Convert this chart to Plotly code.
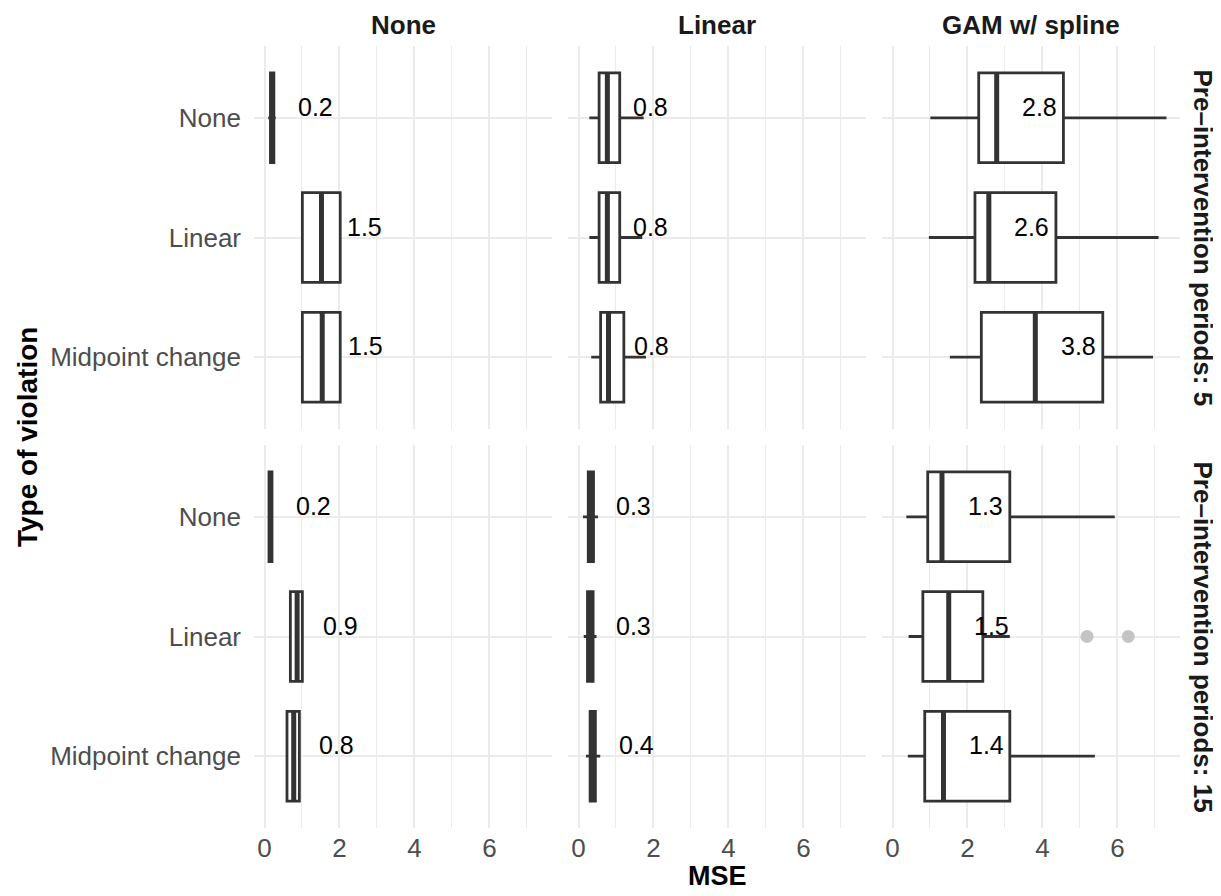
import plotly.graph_objects as go

# ---------------- data ----------------
violations = ["None", "Linear", "Midpoint change"]          # y categories (top to bottom)
models = ["None", "Linear", "GAM w/ spline"]                 # facet columns
periods = ["Pre–intervention periods: 5", "Pre–intervention periods: 15"]  # facet rows
x_ticks = [0, 2, 4, 6]

# each list: [model][violation]
lo_p5  = [[0.10, 1.01, 1.01], [0.29, 0.29, 0.34], [1.01, 0.97, 1.53]]
q1_p5  = [[0.16, 1.01, 1.01], [0.55, 0.55, 0.59], [2.30, 2.20, 2.37]]
med_p5 = [[0.20, 1.52, 1.54], [0.77, 0.77, 0.80], [2.78, 2.57, 3.81]]
q3_p5  = [[0.25, 2.02, 2.02], [1.10, 1.10, 1.21], [4.56, 4.36, 5.61]]
hi_p5  = [[0.30, 2.02, 2.02], [1.74, 1.70, 1.80], [7.31, 7.10, 6.95]]

lo_p15  = [[0.09, 0.69, 0.60], [0.12, 0.14, 0.20], [0.37, 0.43, 0.41]]
q1_p15  = [[0.12, 0.69, 0.60], [0.26, 0.24, 0.31], [0.94, 0.81, 0.86]]
med_p15 = [[0.16, 0.87, 0.78], [0.32, 0.31, 0.40], [1.32, 1.50, 1.36]]
q3_p15  = [[0.20, 1.01, 0.93], [0.40, 0.39, 0.45], [3.13, 2.41, 3.13]]
hi_p15  = [[0.23, 1.01, 0.93], [0.52, 0.48, 0.58], [5.93, 3.13, 5.40]]

# outliers: (period index, model index, violation index, value)
outlier_period = [1, 1]
outlier_model = [2, 2]
outlier_violation = [1, 1]
outlier_value = [5.19, 6.29]

stats = [
    (lo_p5, q1_p5, med_p5, q3_p5, hi_p5),
    (lo_p15, q1_p15, med_p15, q3_p15, hi_p15),
]

# ---------------- layout helpers ----------------
OFF = 8                      # page body margin of the html page
W, H = 1221 - OFF, 896 - OFF
FONT = "Liberation Sans, Arial, Helvetica, sans-serif"
col_px = [(254, 552), (568, 866), (882, 1180)]
row_px = [(46, 429), (445, 828)]
XR = [-0.28, 7.67]
YR = [-0.6, 2.6]
BOXW = 0.75
LINE = "#333333"
GRID = "#ebebeb"

def fx(px):
    return (px - OFF) / W

def fy(py):
    return 1 - (py - OFF) / H

def ypos(vi):
    return 2 - vi  # None at top

fig = go.Figure()
layout = dict(
    width=W, height=H, margin=dict(l=0, r=0, t=0, b=0),
    paper_bgcolor="white", plot_bgcolor="white", showlegend=False,
    font=dict(family=FONT, color="#4d4d4d"),
)
annotations = []

for r in range(2):
    lo, q1, med, q3, hi = stats[r]
    for c in range(3):
        k = r * 3 + c + 1
        xa = "x" if k == 1 else f"x{k}"
        ya = "y" if k == 1 else f"y{k}"
        xkey = "xaxis" if k == 1 else f"xaxis{k}"
        ykey = "yaxis" if k == 1 else f"yaxis{k}"
        layout[xkey] = dict(
            domain=[fx(col_px[c][0]), fx(col_px[c][1])], anchor=ya,
            range=XR, tickvals=x_ticks, ticktext=[str(t) for t in x_ticks],
            showgrid=True, gridcolor=GRID, gridwidth=1.6, zeroline=False,
            showline=False, ticks="", showticklabels=(r == 1),
            tickfont=dict(size=26, color="#4d4d4d", family=FONT),
            ticklabelstandoff=2,
            minor=dict(tickvals=[1, 3, 5, 7], showgrid=True, gridcolor=GRID, gridwidth=0.8),
        )
        layout[ykey] = dict(
            domain=[fy(row_px[r][1]), fy(row_px[r][0])], anchor=xa,
            range=YR, tickvals=[ypos(i) for i in range(3)], ticktext=violations,
            showgrid=True, gridcolor=GRID, gridwidth=2, zeroline=False,
            showline=False, ticks="", showticklabels=(c == 0),
            tickfont=dict(size=26, color="#4d4d4d", family=FONT),
            ticklabelstandoff=12,
        )
        for v in range(3):
            y = ypos(v)
            fig.add_trace(go.Box(
                orientation="h", y=[y],
                q1=[q1[c][v]], median=[med[c][v]], q3=[q3[c][v]],
                lowerfence=[lo[c][v]], upperfence=[hi[c][v]],
                width=BOXW, whiskerwidth=0, boxpoints=False,
                fillcolor="white", line=dict(color=LINE, width=2.8),
                xaxis=xa, yaxis=ya, hoverinfo="skip",
            ))
            fig.add_trace(go.Scatter(
                x=[med[c][v], med[c][v]], y=[y - BOXW / 2, y + BOXW / 2],
                mode="lines", line=dict(color=LINE, width=5),
                xaxis=xa, yaxis=ya, hoverinfo="skip",
            ))
            annotations.append(dict(
                x=med[c][v] + 1.15, y=y + 0.09, xref=xa, yref=ya,
                text=f"{med[c][v]:.1f}", showarrow=False,
                font=dict(size=25, color="black", family=FONT),
                xanchor="center", yanchor="middle",
            ))
        # outliers for this panel
        ox = [outlier_value[i] for i in range(len(outlier_value))
              if outlier_period[i] == r and outlier_model[i] == c]
        oy = [ypos(outlier_violation[i]) for i in range(len(outlier_value))
              if outlier_period[i] == r and outlier_model[i] == c]
        if ox:
            fig.add_trace(go.Scatter(
                x=ox, y=oy, mode="markers",
                marker=dict(color="#c4c4c4", size=13),
                xaxis=xa, yaxis=ya, hoverinfo="skip",
            ))

# column strip titles
for c in range(3):
    annotations.append(dict(
        x=fx((col_px[c][0] + col_px[c][1]) / 2), y=fy(25), xref="paper", yref="paper",
        text=f"<b>{models[c]}</b>", showarrow=False,
        font=dict(size=26, color="#1a1a1a", family=FONT),
        xanchor="center", yanchor="middle",
    ))
# row strip titles
for r in range(2):
    annotations.append(dict(
        x=fx(1203), y=fy((row_px[r][0] + row_px[r][1]) / 2), xref="paper", yref="paper",
        text=f"<b>{periods[r]}</b>", showarrow=False, textangle=90,
        font=dict(size=26, color="#1a1a1a", family=FONT),
        xanchor="center", yanchor="middle",
    ))
# axis titles
annotations.append(dict(
    x=fx((col_px[0][0] + col_px[2][1]) / 2), y=fy(876), xref="paper", yref="paper",
    text="<b>MSE</b>", showarrow=False,
    font=dict(size=27, color="black", family=FONT),
    xanchor="center", yanchor="middle",
))
annotations.append(dict(
    x=fx(27), y=fy((row_px[0][0] + row_px[1][1]) / 2), xref="paper", yref="paper",
    text="<b>Type of violation</b>", showarrow=False, textangle=-90,
    font=dict(size=28, color="black", family=FONT),
    xanchor="center", yanchor="middle",
))

layout["annotations"] = annotations
layout["boxmode"] = "overlay"
fig.update_layout(**layout)
fig.write_html("out.html")
